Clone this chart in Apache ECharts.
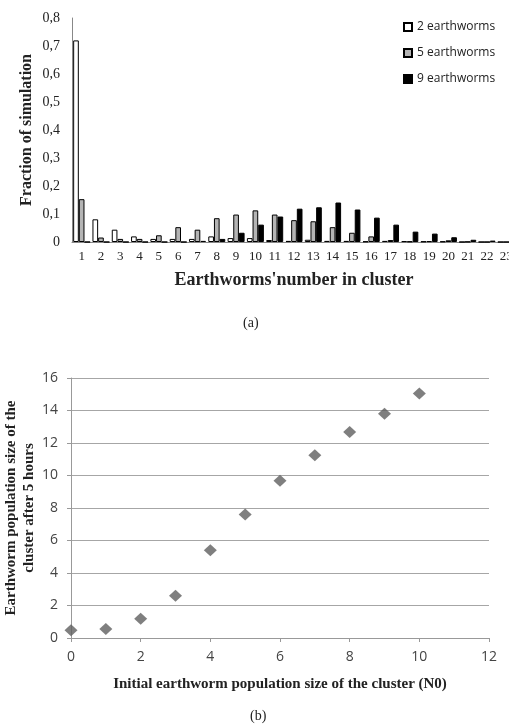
<!DOCTYPE html>
<html>
<head>
<meta charset="utf-8">
<script src="https://cdn.jsdelivr.net/npm/echarts@6/dist/echarts.min.js"></script>
<style>html,body{margin:0;padding:0;background:#fff}#c{width:509px;height:728px}</style>
</head>
<body>
<div id="c"></div>
<script>
// ---- Panel (a): bar chart ----
const clusterSizes = ['1','2','3','4','5','6','7','8','9','10','11','12','13','14','15','16','17','18','19','20','21','22','23'];
const worms2 = [0.72,0.081,0.044,0.02,0.011,0.011,0.011,0.02,0.014,0.014,0.007,0.004,0.008,0.004,0.004,0.002,0.004,0.003,0.002,0.002,0,0,0];
const worms5 = [0.153,0.016,0.011,0.011,0.024,0.053,0.044,0.085,0.098,0.113,0.098,0.078,0.074,0.053,0.033,0.02,0.007,0.002,0.003,0.006,0.001,0,0];
const worms9 = [0,0,0,0,0,0,0.004,0.011,0.033,0.062,0.091,0.119,0.124,0.141,0.116,0.087,0.062,0.037,0.03,0.017,0.008,0.005,0.003];
const yTickLabelsA = ['0','0,1','0,2','0,3','0,4','0,5','0,6','0,7','0,8'];
const seriesNamesA = ['2 earthworms','5 earthworms','9 earthworms'];

// ---- Panel (b): scatter ----
const initialSize = [0,1,2,3,4,5,6,7,8,9,10];
const sizeAfter5h = [0.47,0.55,1.19,2.6,5.4,7.6,9.68,11.24,12.68,13.8,15.04];

const serif = '"Liberation Serif","Times New Roman",serif';
const sans = '"Open Sans","Liberation Sans",sans-serif';

const chart = echarts.init(document.getElementById('c'), null, {renderer:'canvas'});
chart.setOption({
  animation:false,
  backgroundColor:'#fff',
  legend:{
    orient:'vertical', left:398, top:16, itemGap:14, itemWidth:8, itemHeight:8,
    icon:'rect',
    textStyle:{fontFamily:sans, fontSize:12, color:'#222'},
    data:seriesNamesA
  },
  grid:[
    {left:72, top:18, width:444, height:224, outerBoundsMode:'none', containLabel:false},
    {left:71, top:378, width:418, height:260, outerBoundsMode:'none', containLabel:false}
  ],
  xAxis:[
    {type:'category', gridIndex:0, data:clusterSizes,
     axisLine:{lineStyle:{color:'#888'}}, axisTick:{show:false},
     axisLabel:{interval:0, fontFamily:serif, fontSize:13, color:'#222', margin:8},
     name:"Earthworms'number in cluster", nameLocation:'middle', nameGap:29, nameMoveOverlap:false,
     nameTextStyle:{fontFamily:serif, fontWeight:'bold', fontSize:18, color:'#222'}},
    {type:'value', gridIndex:1, min:0, max:12, interval:2,
     splitLine:{show:false},
     axisLine:{show:true, lineStyle:{color:'#999'}}, axisTick:{show:true, length:4, lineStyle:{color:'#999'}},
     axisLabel:{fontFamily:sans, fontSize:14, color:'#444', margin:12},
     name:'Initial earthworm population size of the cluster (N0)', nameLocation:'middle', nameGap:39, nameMoveOverlap:false,
     nameTextStyle:{fontFamily:serif, fontWeight:'bold', fontSize:15, color:'#222'}}
  ],
  yAxis:[
    {type:'value', gridIndex:0, min:0, max:0.8, interval:0.1,
     splitLine:{show:false},
     axisLine:{show:true, lineStyle:{color:'#888'}}, axisTick:{show:false},
     axisLabel:{fontFamily:serif, fontSize:14, color:'#222', margin:12,
       formatter:(v)=>yTickLabelsA[Math.round(v*10)]},
     name:'Fraction of simulation', nameLocation:'middle', nameGap:37, nameMoveOverlap:false,
     nameTextStyle:{fontFamily:serif, fontWeight:'bold', fontSize:16, color:'#222'}},
    {type:'value', gridIndex:1, min:0, max:16, interval:2,
     splitLine:{show:true, lineStyle:{color:'#a6a6a6', width:1.2}},
     axisLine:{show:true, lineStyle:{color:'#999'}}, axisTick:{show:true, length:4, lineStyle:{color:'#999'}},
     axisLabel:{fontFamily:sans, fontSize:14, color:'#444', margin:13},
     name:'Earthworm population size of the\ncluster after 5 hours', nameLocation:'middle', nameGap:33, nameMoveOverlap:false,
     nameTextStyle:{fontFamily:serif, fontWeight:'bold', fontSize:15, color:'#222', lineHeight:18}}
  ],
  series:[
    {name:seriesNamesA[0], type:'bar', xAxisIndex:0, yAxisIndex:0, data:worms2,
     barGap:'0%', barCategoryGap:'12%',
     itemStyle:{color:'#ffffff', borderColor:'#000', borderWidth:1}},
    {name:seriesNamesA[1], type:'bar', xAxisIndex:0, yAxisIndex:0, data:worms5,
     barGap:'0%', barCategoryGap:'12%',
     itemStyle:{color:'#b4b4b4', borderColor:'#000', borderWidth:1}},
    {name:seriesNamesA[2], type:'bar', xAxisIndex:0, yAxisIndex:0, data:worms9,
     barGap:'0%', barCategoryGap:'12%',
     itemStyle:{color:'#000', borderColor:'#000', borderWidth:1}},
    {name:'N', type:'scatter', xAxisIndex:1, yAxisIndex:1,
     data:initialSize.map((x,i)=>[x,sizeAfter5h[i]]),
     symbol:'diamond', symbolSize:[13,12],
     itemStyle:{color:'#5f5f5f'}}
  ],
  graphic:[
    {type:'text', left:243, top:316, style:{text:'(a)', font:'14px '+serif, fill:'#222'}},
    {type:'text', left:250, top:709, style:{text:'(b)', font:'14px '+serif, fill:'#222'}}
  ]
});
</script>
</body>
</html>
